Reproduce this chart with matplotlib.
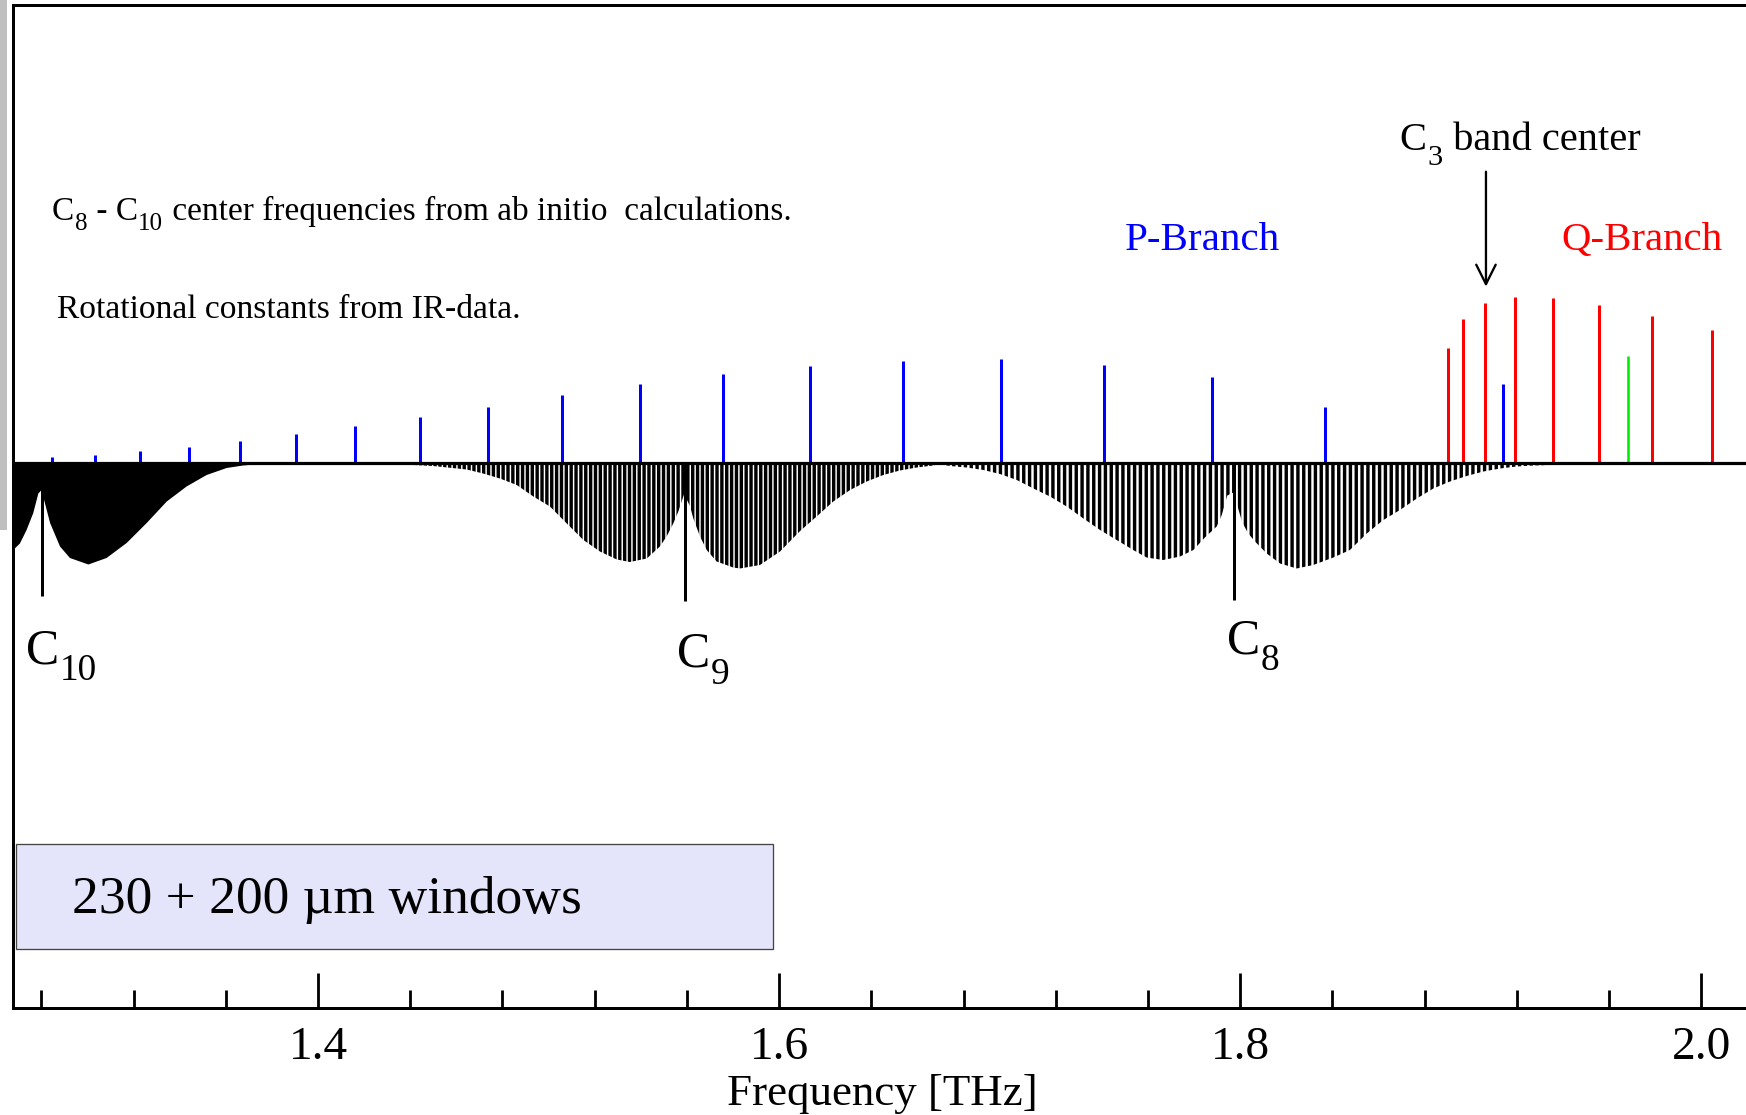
import matplotlib
matplotlib.use('Agg')
import matplotlib.pyplot as plt
from matplotlib.patches import Rectangle

DPI = 175
W, H = 1746, 1115
PT = 72.0 / DPI  # points per output pixel

plt.rcParams['font.family'] = ['Liberation Serif', 'DejaVu Serif']
plt.rcParams['hatch.linewidth'] = 3.4 * PT
plt.rcParams['hatch.color'] = 'black'

# ---------------- data (frequencies in THz, intensities in arbitrary units) ----------
# C3 P-branch lines (blue)
p_branch_freq = [1.2848, 1.3033, 1.3228, 1.3439, 1.3662, 1.3905, 1.4162, 1.4441,
                 1.4737, 1.5057, 1.5395, 1.5755, 1.6135, 1.6539, 1.6964, 1.7408,
                 1.7878, 1.8368, 1.9141]
p_branch_int = [0.052, 0.078, 0.115, 0.155, 0.215, 0.285, 0.362, 0.458,
                0.558, 0.672, 0.782, 0.885, 0.968, 1.018, 1.032, 0.978,
                0.852, 0.552, 0.785]

# C3 Q-branch lines (red)
q_branch_freq = [1.8903, 1.8966, 1.9063, 1.9192, 1.9358, 1.9556, 1.9785, 2.0048]
q_branch_int = [1.148, 1.432, 1.592, 1.655, 1.648, 1.578, 1.468, 1.328]

# extra line (green)
green_freq = [1.9683]
green_int = [1.068]

# absorption envelopes of the simulated C10, C9, C8 bands (depth below baseline)
c10_env_freq = [1.2600, 1.2678, 1.2707, 1.2736, 1.2765, 1.2787, 1.2799, 1.2812,
                1.2838, 1.2881, 1.2924, 1.3004, 1.3083, 1.3170, 1.3257, 1.3344,
                1.3430, 1.3517, 1.3604, 1.3675, 1.3748, 1.3813]
c10_env_abs = [0.95, 0.875, 0.81, 0.675, 0.505, 0.31, 0.28, 0.375,
               0.605, 0.84, 0.955, 1.02, 0.955, 0.805, 0.605, 0.39,
               0.24, 0.125, 0.055, 0.03, 0.015, 0.0]

c9_env_freq = [1.4334, 1.4356, 1.4499, 1.4645, 1.4716, 1.4789, 1.4862, 1.4934,
               1.5006, 1.5079, 1.5151, 1.5223, 1.5296, 1.5353, 1.5426, 1.5483,
               1.5512, 1.5541, 1.5563, 1.5588, 1.5614, 1.5628, 1.5657, 1.5686,
               1.5729, 1.5801, 1.5830, 1.5917, 1.6004, 1.6091, 1.6163, 1.6235,
               1.6308, 1.6380, 1.6452, 1.6524, 1.6597, 1.6669, 1.6720]
c9_env_abs = [0.0, 0.018, 0.035, 0.07, 0.11, 0.16, 0.225, 0.34,
              0.44, 0.61, 0.775, 0.89, 0.97, 0.995, 0.96, 0.84,
              0.74, 0.61, 0.49, 0.315, 0.44, 0.56, 0.74, 0.875,
              0.99, 1.05, 1.06, 1.025, 0.89, 0.685, 0.54, 0.39,
              0.275, 0.19, 0.125, 0.08, 0.05, 0.03, 0.0]

c8_env_freq = [1.6655, 1.6741, 1.6814, 1.6886, 1.6958, 1.7031, 1.7103, 1.7175,
               1.7247, 1.7320, 1.7392, 1.7464, 1.7536, 1.7594, 1.7666, 1.7739,
               1.7797, 1.7847, 1.7898, 1.7920, 1.7944, 1.7971, 1.8009, 1.8035,
               1.8064, 1.8115, 1.8173, 1.8245, 1.8317, 1.8404, 1.8476, 1.8549,
               1.8621, 1.8693, 1.8766, 1.8838, 1.8910, 1.8982, 1.9055, 1.9127,
               1.9199, 1.9271, 1.9416, 1.9452]
c8_env_abs = [0.0, 0.035, 0.05, 0.075, 0.115, 0.175, 0.26, 0.34,
              0.44, 0.56, 0.675, 0.775, 0.875, 0.95, 0.975, 0.94,
              0.875, 0.75, 0.64, 0.525, 0.33, 0.30, 0.60, 0.71,
              0.79, 0.91, 1.01, 1.06, 1.025, 0.95, 0.875, 0.71,
              0.575, 0.475, 0.36, 0.26, 0.19, 0.135, 0.09, 0.06,
              0.04, 0.03, 0.02, 0.0]

# band centres (ab initio) and their labels
band_center = [1.2801, 1.5593, 1.7971]
band_marker_depth = [1.335, 1.38, 1.37]
band_sub = ['10', '9', '8']
band_label_x = [1.2735, 1.5555, 1.7942]
band_label_y = [-2.005, -2.042, -1.908]

c3_center = 1.9066

major_ticks = [1.4, 1.6, 1.8, 2.0]
minor_ticks = [1.28, 1.32, 1.36, 1.44, 1.48, 1.52, 1.56, 1.64, 1.68, 1.72, 1.76,
               1.84, 1.88, 1.92, 1.96]
tick_labels = ['1.4', '1.6', '1.8', '2.0']

# ---------------- figure ----------------
fig = plt.figure(figsize=(W / DPI, H / DPI), dpi=DPI)
fig.patch.set_facecolor('white')

# grey strip at the left edge of the screenshot
fig.add_artist(Rectangle((0, 1 - 530 / H), 7.3 / W, 530 / H, transform=fig.transFigure,
                         facecolor='#bfbfbf', edgecolor='none'))

ax = fig.add_axes([12.5 / W, (H - 1008) / H, 1 - 12.5 / W, (1008 - 5) / H])
ax.set_xlim(1.26749, 2.01939)
ax.set_ylim(-5.455, 4.575)


def chem_text(x, y, parts, size, drop_px, gap_px=1.5, color='black', sub_ratio=0.75):
    """Draw text with lowered subscripts. parts: list of (string, is_subscript)."""
    s0, _ = parts[0]
    prev = ax.text(x, y, s0, fontsize=size, color=color, ha='left', va='baseline',
                   zorder=5)
    for s, is_sub in parts[1:]:
        dy = -drop_px * PT if is_sub else 0.0
        fs = size * sub_ratio if is_sub else size
        prev = ax.annotate(s, xy=(1, y), xycoords=(prev, 'data'),
                           xytext=(gap_px * PT, dy), textcoords='offset points',
                           fontsize=fs, color=color, ha='left', va='baseline',
                           zorder=5)
    return prev


# absorption bands
ax.fill_between(c10_env_freq, [-v for v in c10_env_abs], 0, facecolor='black',
                edgecolor='none', linewidth=0, zorder=2)
ax.fill_between(c9_env_freq, [-v for v in c9_env_abs], 0, facecolor='none',
                edgecolor='black', linewidth=0, hatch='||||||', zorder=2)
ax.fill_between(c8_env_freq, [-v for v in c8_env_abs], 0, facecolor='none',
                edgecolor='black', linewidth=0, hatch='|||||', zorder=2)

# band centre markers
ax.vlines(band_center, [-d for d in band_marker_depth], 0, colors='black',
          linewidth=3.0 * PT, zorder=3)
for x, y, s in zip(band_label_x, band_label_y, band_sub):
    chem_text(x, y, [('C', False), (s, True)], 20.5, drop_px=17, gap_px=0.5)

# C3 lines
ax.vlines(p_branch_freq, 0, p_branch_int, colors='#0000ff', linewidth=3.0 * PT, zorder=3)
ax.vlines(q_branch_freq, 0, q_branch_int, colors='#ff0000', linewidth=3.0 * PT, zorder=3)
ax.vlines(green_freq, 0, green_int, colors='#00ee00', linewidth=2.6 * PT, zorder=3)

# baseline
ax.axhline(0, color='black', linewidth=3.2 * PT, zorder=4)

# annotations
chem_text(1.2846, 2.425,
          [('C', False), ('8', True), (' - C', False), ('10', True),
           (' center frequencies from ab initio  calculations.', False)],
          13.7, drop_px=10, gap_px=0.5)
ax.text(1.2866, 1.445, 'Rotational constants from IR-data.', fontsize=13.8,
        ha='left', va='baseline')
ax.text(1.7499, 2.125, 'P-Branch', color='#0000ff', fontsize=16.9, ha='left', va='baseline')
ax.text(1.9394, 2.125, 'Q-Branch', color='#ff0000', fontsize=16.8, ha='left', va='baseline')
chem_text(1.8690, 3.125, [('C', False), ('3', True), (' band center', False)], 16.7,
          drop_px=15, gap_px=1.0)
ax.annotate('', xy=(c3_center, 1.758), xytext=(c3_center, 2.908),
            arrowprops=dict(arrowstyle='->,head_length=0.4,head_width=0.2',
                            lw=2.3 * PT, color='black', shrinkA=0, shrinkB=0,
                            mutation_scale=20))

# window box
ax.add_patch(Rectangle((1.2690, -4.868), 1.5972 - 1.2690, 4.868 - 3.815,
                       facecolor='#e4e4fa', edgecolor='#444444', linewidth=1.3 * PT,
                       zorder=2))
ax.text(1.2932, -4.508, '230 + 200 \u00b5m windows', fontsize=22, ha='left',
        va='baseline', zorder=3)

# axes styling
for side in ['left', 'top', 'bottom']:
    ax.spines[side].set_linewidth(3.0 * PT)
ax.spines['right'].set_visible(False)
ax.set_yticks([])
ax.set_xticks(major_ticks)
ax.set_xticklabels(tick_labels)
ax.set_xticks(minor_ticks, minor=True)
ax.tick_params(axis='x', which='major', direction='in', length=35 * PT, width=2.8 * PT,
               labelsize=19.5, pad=7.7)
ax.tick_params(axis='x', which='minor', direction='in', length=17.6 * PT, width=2.8 * PT)
ax.tick_params(top=False, left=False, right=False)
ax.set_xlabel('Frequency [THz]', fontsize=18.5, labelpad=2.0)
ax.xaxis.label.set_x(0.502)

fig.savefig('out.png', dpi=DPI, facecolor='white')
